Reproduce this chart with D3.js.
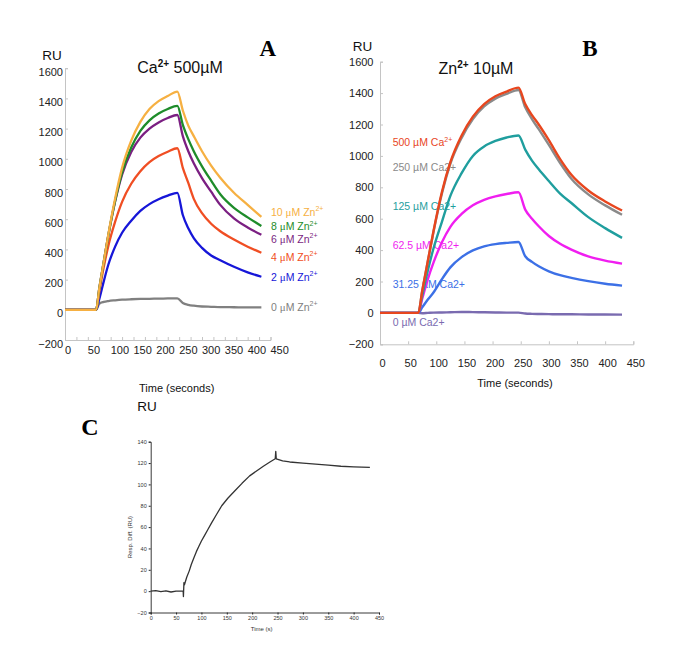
<!DOCTYPE html>
<html><head><meta charset="utf-8">
<script src="https://cdn.jsdelivr.net/npm/d3@7"></script>
<style>body{margin:0;background:#fff}</style>
</head><body><svg id="c" width="685" height="659" style="font-family:'Liberation Sans',Arial,sans-serif"></svg>
<script>
// ---------- data ----------
const timeAB = [0, 68, 75, 85, 95, 110, 125, 145, 165, 185, 205, 225, 246, 258, 270, 282, 300, 320, 340, 370, 400, 430];
// Panel A (Ca2+ 500 uM, varying Zn2+)
const zn10 = [0,0,140,320,500,740,940,1120,1245,1330,1382,1416,1445,1320,1220,1150,1050,955,875,775,695,615];
const zn8  = [0,0,140,320,495,725,910,1075,1185,1255,1300,1330,1350,1225,1130,1050,950,855,765,675,612,555];
const zn6  = [0,0,140,320,495,720,895,1045,1140,1200,1241,1270,1290,1150,1050,970,872,782,695,605,545,497];
const zn4  = [0,0,120,285,425,585,715,835,918,978,1018,1047,1070,940,840,735,640,570,520,465,418,378];
const zn2  = [0,0,70,190,300,420,510,590,655,700,732,756,775,628,540,475,410,360,328,285,248,219];
const zn0  = [0,0,40,52,58,63,67,70,72,73,74,75,76,45,33,27,22,20,18,17,16,16];
const labelsA = ["10", "8", "6", "4", "2", "0"];
// Panel B (Zn2+ 10 uM, varying Ca2+)
const ca500 = [0,0,140,330,520,770,960,1130,1250,1330,1380,1410,1435,1330,1260,1200,1100,980,880,780,710,652];
const ca250 = [0,0,140,330,515,760,950,1115,1235,1315,1365,1395,1420,1310,1235,1170,1070,955,855,755,685,625];
const ca125 = [0,0,110,270,410,580,745,890,1000,1060,1095,1117,1130,1040,970,915,840,760,700,610,540,478];
const ca62  = [0,0,90,215,320,450,548,630,685,720,742,757,768,658,600,552,490,440,403,360,333,314];
const ca31  = [0,0,35,85,130,215,290,355,398,424,438,446,452,361,325,297,265,240,223,202,186,174];
const ca0   = [0,0,-2,0,2,3,4,6,5,4,3,2,2,-4,-6,-7,-8,-9,-9,-10,-10,-11];
const labelsB = ["500", "250", "125", "62.5", "31.25", "0"];
// Panel C
const timeC = [0,10,20,30,40,50,64,64.5,65.5,66.5,71,76,80,85,90,95,100,106,113,120,130,140,152,166,180,195,210,222,235,245.5,246.5,247.5,260,274,300,325,350,375,400,432];
const respC = [0,0.5,-0.5,0.3,-0.8,0,0,-5,8,6,13,19,25,31,37,42,47,52,58,64,72,80,87,94,101,108,113,117,121,124,131,124,122,121,120,119,118,117,116.5,116];
const ticksAB = [0,50,100,150,200,250,300,350,400,450];
const yTicksAB = [-200,0,200,400,600,800,1000,1200,1400,1600];
const yTicksC = [-20,0,20,40,60,80,100,120,140];

const SERIF = "'Liberation Serif','Times New Roman',serif";
const svg = d3.select("#c");
svg.append("rect").attr("width",685).attr("height",659).attr("fill","#fff");

function sup(t, base, supTxt, size){
  t.append("tspan").text(base);
  t.append("tspan").attr("font-size", size).attr("dy", -size*0.6).text(supTxt);
}

// ---------- Panel A ----------
{
  const x = d3.scaleLinear([0,450],[65,270.5]);
  const y = d3.scaleLinear([-200,1600],[340,68.2]);
  const g = svg.append("g");
  const xa = g.append("g").attr("transform",`translate(0,${y(-200)})`)
    .call(d3.axisBottom(x).tickValues(d3.range(0,451,25)).tickSize(-3).tickFormat(""));
  g.selectAll("text.xl").data(ticksAB).join("text").attr("class","xl")
    .attr("x",d=>x(d)).attr("y",y(-200)+14).attr("text-anchor","start")
    .attr("font-size",11).attr("fill","#222").text(d=>d);
  const ya = g.append("g").attr("transform",`translate(${x(0)},0)`)
    .call(d3.axisLeft(y).tickValues(yTicksAB).tickFormat(d3.format("d")).tickSize(-3).tickPadding(2));
  ya.selectAll("text").attr("font-size",11).attr("fill","#222").attr("dy","0.64em");
  [xa, ya].forEach(a=>{a.select(".domain").attr("stroke","#c4c4c4"); a.selectAll("line").attr("stroke","#c4c4c4");});

  const line = d3.line().x((d,i)=>x(timeAB[i])).y(d=>y(d)).curve(d3.curveMonotoneX);
  const series = [
    {v:zn0, c:"#808080", ly:307},
    {v:zn2, c:"#1616d8", ly:277},
    {v:zn4, c:"#f04e23", ly:257},
    {v:zn6, c:"#7b1f82", ly:239},
    {v:zn8, c:"#1e8c2a", ly:226.7},
    {v:zn10, c:"#f6b042", ly:212}
  ];
  series.forEach(s=>g.append("path").attr("d",line(s.v)).attr("fill","none").attr("stroke",s.c).attr("stroke-width",2.3).attr("stroke-linejoin","round"));
  const lab = labelsA.slice().reverse();
  series.forEach((s,i)=>{
    const t = g.append("text").attr("x",271).attr("y",s.ly+3.5).attr("font-size",10.5).attr("fill",s.c);
    t.append("tspan").text(lab[i]+" ");
    t.append("tspan").style("font-family",SERIF).attr("font-size",11).text("μ");
    sup(t, "M Zn", "2+", 7);
  });
  svg.append("text").attr("x",52).attr("y",59.5).attr("text-anchor","middle").attr("font-size",13.5).attr("fill","#111").text("RU");
  const tt = svg.append("text").attr("x",180).attr("y",73).attr("text-anchor","middle").attr("font-size",16).attr("fill","#111");
  tt.append("tspan").text("Ca"); tt.append("tspan").attr("font-size",10).attr("dy",-6).attr("font-weight","bold").text("2+");
  tt.append("tspan").attr("dy",6).text(" 500µM");
  svg.append("text").attr("x",267.7).attr("y",55.5).attr("text-anchor","middle").style("font-family",SERIF).attr("font-weight","bold").attr("font-size",23).text("A");
  svg.append("text").attr("x",176.7).attr("y",391.5).attr("text-anchor","middle").attr("font-size",11).attr("fill","#111").text("Time (seconds)");
}

// ---------- Panel B ----------
{
  const x = d3.scaleLinear([0,450],[380,633.3]);
  const y = d3.scaleLinear([-200,1600],[344.3,61.7]);
  const g = svg.append("g");
  const xa = g.append("g").attr("transform",`translate(0,${y(-200)})`)
    .call(d3.axisBottom(x).tickValues(ticksAB).tickSize(-3).tickPadding(15));
  xa.selectAll("text").attr("font-size",11).attr("fill","#222").attr("dx",2);
  const ya = g.append("g").attr("transform",`translate(${x(0)},0)`)
    .call(d3.axisLeft(y).tickValues(yTicksAB).tickFormat(d3.format("d")).tickSize(-3).tickPadding(6.5));
  ya.selectAll("text").attr("font-size",11).attr("fill","#222");
  [xa, ya].forEach(a=>{a.select(".domain").attr("stroke","#c4c4c4"); a.selectAll("line").attr("stroke","#c4c4c4");});

  const series = [
    {v:ca0, c:"#7a6bb0", ly:322.7},
    {v:ca31, c:"#3c70e6", ly:284},
    {v:ca62, c:"#f01ef0", ly:245},
    {v:ca125, c:"#1f9e9e", ly:206.7},
    {v:ca250, c:"#8a8a8a", ly:167.3},
    {v:ca500, c:"#e8461e", ly:142.3}
  ];
  const lab = labelsB.slice().reverse();
  series.forEach((s,i)=>{
    const t = g.append("text").attr("x",392.7).attr("y",s.ly+3.7).attr("font-size",10.5).attr("fill",s.c);
    if (lab[i]==="500") { sup(t, "500 µM Ca", "2+", 7); }
    else t.text(lab[i]+" µM Ca2+");
  });
  const line = d3.line().x((d,i)=>x(timeAB[i])).y(d=>y(d)).curve(d3.curveMonotoneX);
  series.forEach(s=>g.append("path").attr("d",line(s.v)).attr("fill","none").attr("stroke",s.c).attr("stroke-width",2.4).attr("stroke-linejoin","round"));
  svg.append("text").attr("x",362.5).attr("y",50.5).attr("text-anchor","middle").attr("font-size",13.5).attr("fill","#111").text("RU");
  const tt = svg.append("text").attr("x",476).attr("y",73.5).attr("text-anchor","middle").attr("font-size",16).attr("fill","#111");
  tt.append("tspan").text("Zn"); tt.append("tspan").attr("font-size",10).attr("dy",-6).attr("font-weight","bold").text("2+");
  tt.append("tspan").attr("dy",6).text(" 10µM");
  svg.append("text").attr("x",590).attr("y",55.5).attr("text-anchor","middle").style("font-family",SERIF).attr("font-weight","bold").attr("font-size",23).text("B");
  svg.append("text").attr("x",515).attr("y",387).attr("text-anchor","middle").attr("font-size",11).attr("fill","#111").text("Time (seconds)");
}

// ---------- Panel C ----------
{
  const x = d3.scaleLinear([0,450],[150.7,379]);
  const y = d3.scaleLinear([-20,140],[612.5,441.7]);
  const g = svg.append("g");
  const xa = g.append("g").attr("transform",`translate(0,${y(-20)})`)
    .call(d3.axisBottom(x).tickValues(ticksAB).tickSize(2).tickPadding(1.5));
  xa.selectAll("text").attr("font-size",5.5).attr("fill","#333");
  const ya = g.append("g").attr("transform",`translate(${x(0)},0)`)
    .call(d3.axisLeft(y).tickValues(yTicksC).tickSize(2).tickPadding(2));
  ya.selectAll("text").attr("font-size",5.5).attr("fill","#333");
  [xa, ya].forEach(a=>{a.select(".domain").attr("stroke","#222").attr("stroke-width",0.9); a.selectAll("line").attr("stroke","#222");});
  const line = d3.line().x((d,i)=>x(timeC[i])).y(d=>y(d)).curve(d3.curveLinear);
  g.append("path").attr("d",line(respC)).attr("fill","none").attr("stroke","#333").attr("stroke-width",1.3).attr("stroke-linejoin","round");
  svg.append("text").attr("x",130).attr("y",537).attr("text-anchor","middle").attr("transform","rotate(-90,130,537)").attr("dy","0.35em").attr("font-size",6).attr("fill","#333").text("Resp. Diff. (RU)");
  svg.append("text").attr("x",261.7).attr("y",631).attr("text-anchor","middle").attr("font-size",6).attr("fill","#333").text("Time (s)");
  svg.append("text").attr("x",147).attr("y",411).attr("text-anchor","middle").attr("font-size",13.5).attr("fill","#111").text("RU");
  svg.append("text").attr("x",90).attr("y",434.5).attr("text-anchor","middle").style("font-family",SERIF).attr("font-weight","bold").attr("font-size",24).text("C");
}
</script></body></html>
